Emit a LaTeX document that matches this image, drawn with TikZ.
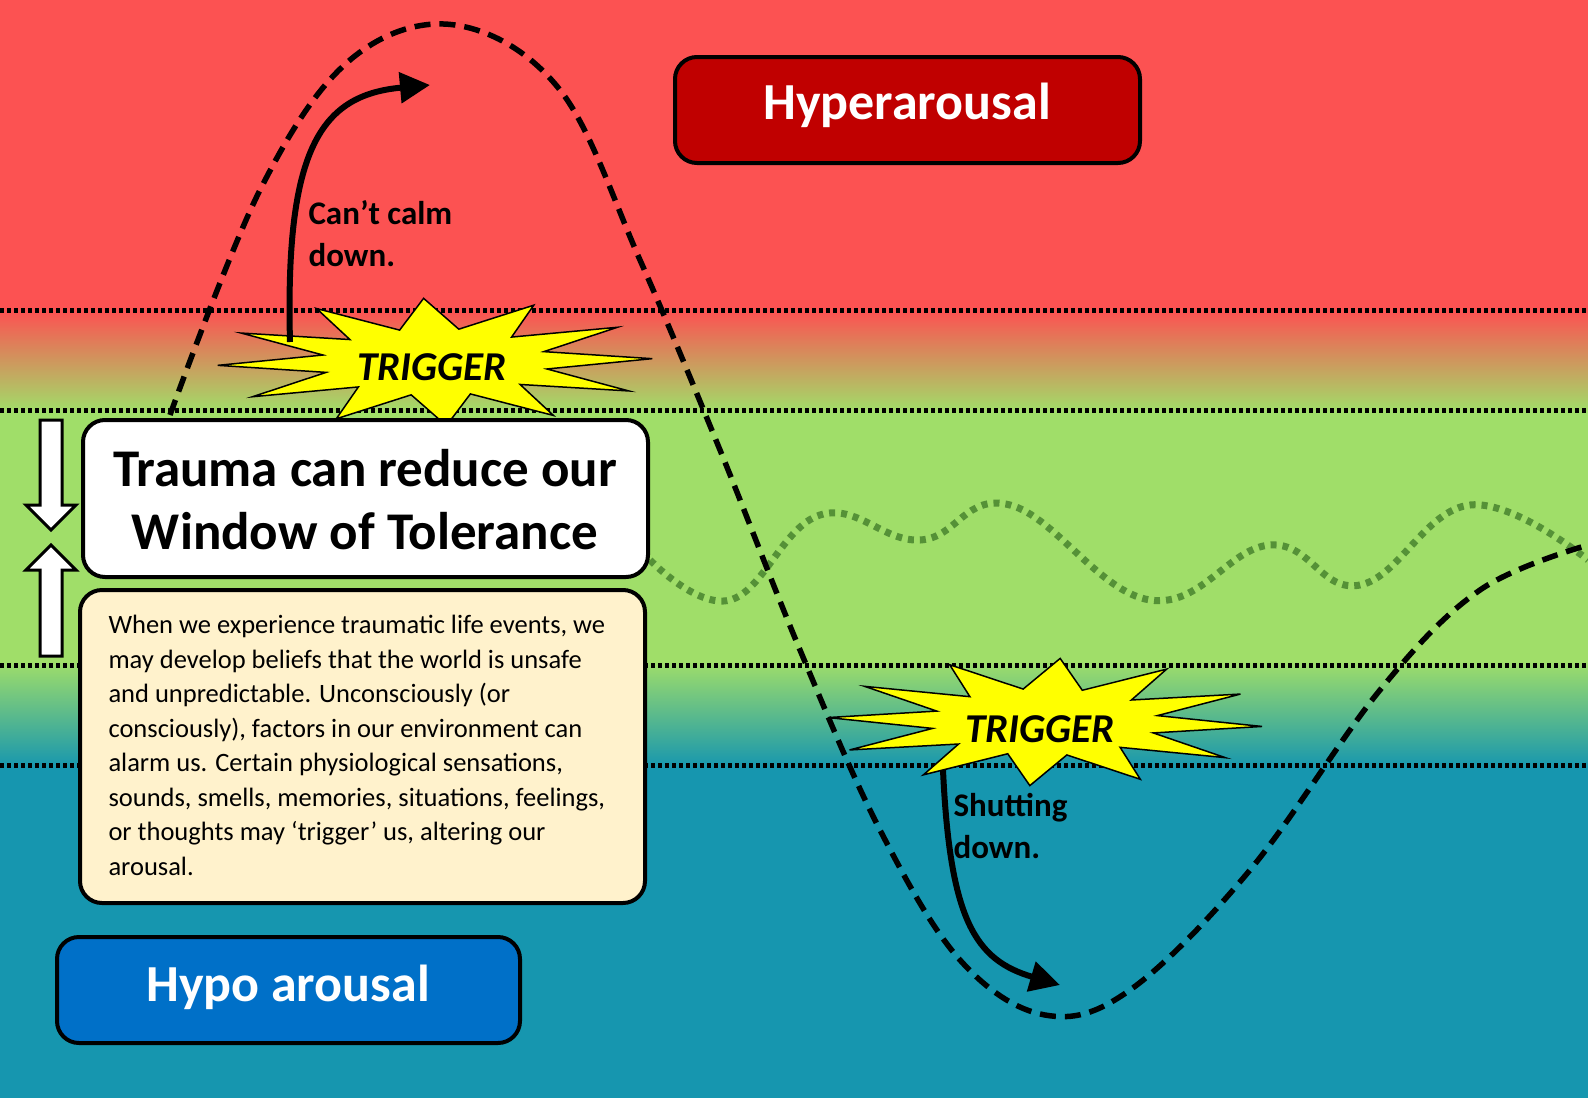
\documentclass[tikz,border=0pt]{standalone}
\usepackage{fontspec}
\setmainfont{Carlito}
\usetikzlibrary{shapes.geometric,arrows.meta}
\definecolor{hyred}{RGB}{252,82,82}
\definecolor{wgreen}{RGB}{160,222,105}
\definecolor{hteal}{RGB}{22,150,175}
\definecolor{boxred}{RGB}{192,0,0}
\definecolor{boxblue}{RGB}{0,112,200}
\definecolor{cream}{RGB}{255,242,204}
\definecolor{wavegreen}{RGB}{85,145,55}
\definecolor{trig}{RGB}{255,255,0}
\tikzset{
 sep/.style={line width=5pt,dash pattern=on 4pt off 3pt},
 rbox/.style={draw=black,line width=4pt,rounded corners=22pt},
 burst/.style={star,star points=12,star point ratio=1.9,fill=trig,draw=black,line width=1.5pt,minimum size=150pt},
 bigarrow/.style={line width=6pt,-{Triangle[length=30pt,width=30pt]}},
}
\begin{document}
\begin{tikzpicture}[x=1pt,y=-1pt]
\useasboundingbox (0,0) rectangle (1588,1098);
\fill[hyred] (0,0) rectangle (1588,312);
\shade[top color=hyred,bottom color=wgreen] (0,311) rectangle (1588,412);
\fill[wgreen] (0,411) rectangle (1588,662);
\shade[top color=wgreen,bottom color=hteal] (0,661) rectangle (1588,768);
\fill[hteal] (0,767) rectangle (1588,1098);
\foreach \yy in {310,410,665,765} \draw[sep] (0,\yy) -- (1588,\yy);
\draw[wavegreen,line width=7pt,dash pattern=on 6pt off 6pt] plot[smooth,tension=0.7] coordinates {(650,560) (730,600) (820,515) (920,540) (1010,505) (1150,600) (1270,545) (1360,585) (1470,505) (1588,560)};
\draw[line width=5.5pt,dash pattern=on 16pt off 9pt] plot[smooth,tension=0.6] coordinates {(170,415) (260,190) (350,60) (455,25) (560,90) (640,260) (720,450) (800,650) (880,830) (960,960) (1045,1015) (1130,990) (1250,870) (1380,690) (1480,590) (1588,545)};
\node[burst,xscale=2.9,yscale=0.85,rotate=3] (b1) at (435,362) {};
\node[font=\bfseries\itshape\fontsize{41}{48}\selectfont] (t1) at (432,367) {TRIGGER};
\node[burst,xscale=2.9,yscale=0.85,rotate=-4] (b2) at (1045,722) {};
\node[font=\bfseries\itshape\fontsize{41}{48}\selectfont] (t2) at (1040,729) {TRIGGER};
\coordinate (a1s) at (290,342); \coordinate (a1e) at (430,85);
\draw[bigarrow] (a1s) .. controls (285,150) and (320,95) .. (a1e);
\coordinate (a2s) at (943,770); \coordinate (a2e) at (1060,985);
\draw[bigarrow] (a2s) .. controls (950,920) and (975,960) .. (a2e);
\node[anchor=north west,align=left,font=\bfseries\fontsize{33}{42}\selectfont] (c1) at (305,197) {Can’t calm\\down.};
\node[anchor=north west,align=left,font=\bfseries\fontsize{33}{42}\selectfont] (c2) at (950,790) {Shutting\\down.};
\draw[rbox,fill=boxred] (675,57) rectangle (1140,163);
\node[text=white,font=\bfseries\fontsize{52}{60}\selectfont] (hy) at (907,105) {Hyperarousal};
\draw[rbox,fill=boxblue] (57,937) rectangle (520,1043);
\node[text=white,font=\bfseries\fontsize{52}{60}\selectfont] (ho) at (288,987) {Hypo arousal};
\draw[rbox,fill=white] (83,420) rectangle (648,577);
\node[align=center,font=\bfseries\fontsize{53}{63}\selectfont] (tr) at (365,500) {Trauma can reduce our\\Window of Tolerance};
\draw[rbox,fill=cream] (80,590) rectangle (645,903);
\node[anchor=north west,align=left,font=\fontsize{26.5}{34.5}\selectfont] (body) at (105,612) {When we experience traumatic life events, we\\may develop beliefs that the world is unsafe\\and unpredictable. Unconsciously (or\\consciously), factors in our environment can\\alarm us. Certain physiological sensations,\\sounds, smells, memories, situations, feelings,\\or thoughts may ‘trigger’ us, altering our\\arousal.};
\draw[fill=white,line width=3pt,line join=miter] (40,420) -- (62,420) -- (62,505) -- (76,505) -- (51,530) -- (26,505) -- (40,505) -- cycle;
\draw[fill=white,line width=3pt,line join=miter] (40,656) -- (62,656) -- (62,570) -- (76,570) -- (51,545) -- (26,570) -- (40,570) -- cycle;
\end{tikzpicture}
\end{document}
